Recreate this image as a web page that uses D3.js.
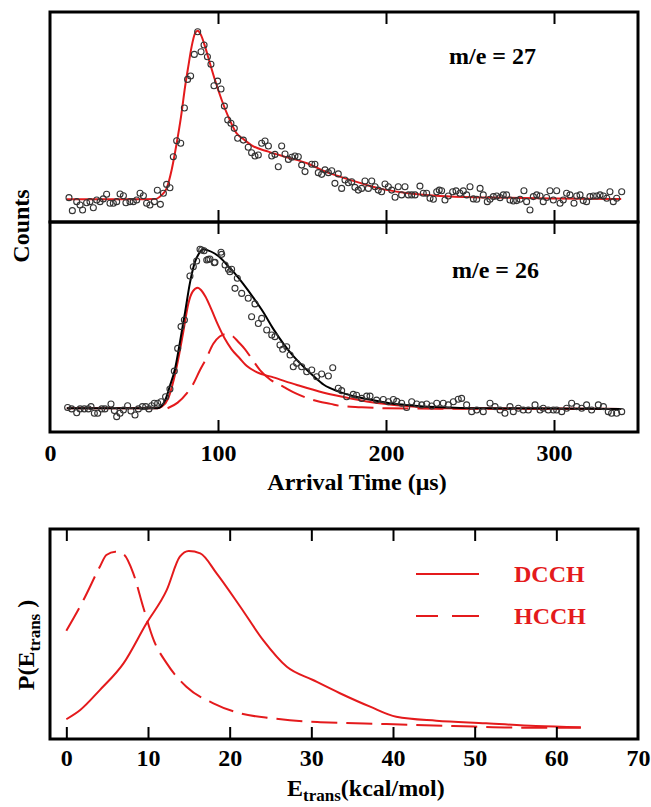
<!DOCTYPE html>
<html>
<head>
<meta charset="utf-8">
<script src="https://cdn.jsdelivr.net/npm/d3@7"></script>
<style>
  body { margin: 0; background: #fff; }
  svg text { font-family: "Liberation Serif", "Times New Roman", serif; font-weight: bold; }
</style>
</head>
<body>
<svg id="chart" width="651" height="807"></svg>
<script>
// ---- data (time in µs, counts in arbitrary units) ----
const timeTicks = [0, 100, 200, 300];
const energyTicks = [0, 10, 20, 30, 40, 50, 60, 70];

const counts27 = [
  [11.3,11.6],[13.3,5.4],[15.9,9.7],[17.9,8.1],[19.4,5.7],[21.8,9.2],[23.8,9.7],[25.8,6.8],[27.8,10.5],[29.8,9.7],
  [31.7,11.0],[33.7,13.2],[35.7,8.9],[37.7,8.9],[39.7,9.7],[41.7,13.3],[43.7,12.5],[45.2,9.2],[47.6,9.7],[49.6,9.7],
  [51.6,10.5],[53.6,13.7],[55.6,12.5],[57.5,8.9],[59.5,8.1],[62.1,9.7],[63.9,15.1],[65.7,8.4],[67.5,13.7],[69.4,17.9],
  [71.4,16.3],[73.4,31.1],[75.4,38.7],[77.8,37.5],[80.0,54.3],[81.9,67.9],[83.7,69.5],[85.9,79.8],[87.9,90.6],[89.9,81.1],
  [91.7,84.3],[93.7,78.7],[95.8,75.1],[97.6,64.9],[99.8,67.1],[101.8,63.3],[103.8,55.2],[105.8,48.6],[107.7,47.0],[109.7,44.6],
  [111.7,39.9],[115.1,39.0],[118.0,35.6],[120.0,33.0],[122.0,31.4],[124.0,31.9],[126.0,37.5],[128.0,38.6],[130.0,36.2],[132.0,31.4],
  [133.9,32.2],[135.9,26.3],[137.9,36.2],[139.9,32.4],[141.9,29.8],[143.9,30.8],[145.8,31.4],[147.8,31.1],[149.8,27.1],[151.8,24.0],
  [155.8,27.5],[157.7,27.5],[159.7,23.5],[161.7,22.7],[163.7,24.8],[165.7,23.5],[167.7,24.4],[169.6,18.4],[171.6,22.9],[173.6,16.0],
  [175.6,20.0],[177.6,18.7],[179.6,19.2],[181.5,16.5],[183.5,15.2],[185.5,16.0],[187.5,19.5],[189.5,16.0],[191.5,19.5],[193.5,16.8],
  [195.4,15.2],[197.4,14.4],[199.4,18.1],[201.4,16.8],[203.4,15.2],[205.4,11.8],[207.3,16.8],[209.3,12.9],[211.3,16.8],[213.3,12.9],
  [215.3,12.9],[217.3,12.9],[220.2,17.1],[222.2,13.7],[224.2,13.7],[226.2,11.3],[228.2,10.8],[230.2,14.4],[231.7,15.2],[233.1,14.9],
  [235.1,10.5],[237.1,12.4],[239.7,14.4],[241.7,14.8],[244.0,13.7],[246.0,14.8],[248.0,12.9],[250.0,16.8],[252.0,11.0],[254.0,10.8],
  [256.0,16.0],[257.9,12.9],[260.3,9.7],[261.9,10.8],[263.9,12.1],[265.9,12.4],[267.9,11.6],[269.8,12.9],[271.8,12.9],[273.8,10.5],
  [275.8,10.0],[277.8,10.2],[279.8,10.8],[282.1,14.9],[283.7,9.7],[285.7,5.7],[287.7,12.1],[289.7,12.9],[291.7,12.4],[293.6,9.7],
  [295.6,11.7],[297.6,14.9],[299.6,10.5],[301.6,14.9],[303.6,8.9],[305.5,10.5],[307.5,13.7],[309.5,12.9],[311.9,8.9],[313.5,12.4],
  [315.5,12.9],[317.4,10.2],[319.4,9.7],[321.4,12.1],[323.4,12.4],[325.4,12.4],[327.4,12.9],[329.4,12.4],[331.4,11.3],[333.3,14.4],
  [335.3,9.7],[337.3,11.3],[340.3,14.4]
];
const fit27 = [
  [10,10.8],[30,10.8],[50,10.8],[62.5,10.9],[66.5,12.9],[69.4,16],[72.4,24.8],[75.4,37.5],[78,50.2],[80.4,64.4],
  [82.3,74],[84.3,83.5],[86.3,89.8],[87.9,91.1],[89.9,89],[92.3,83.5],[95.2,75.6],[98.2,67.6],[102.2,58.1],[106.1,50.2],
  [111.1,42.2],[115.1,39.5],[120,36.5],[130,33.5],[140,31],[153,28],[164,24],[173,21.5],[185,18.5],[196,16],
  [212,13.8],[232,12.4],[260,11.7],[300,11.2],[340,11.0]
];

const counts26 = [
  [10.5,11.7],[12.9,11.0],[15.9,9.2],[17.9,11.0],[20.4,11.0],[22.8,11.0],[24.4,12.1],[26.4,8.9],[28.4,8.9],[30.8,11.0],
  [32.7,11.0],[36.3,13.3],[38.3,10.2],[39.7,7.3],[41.7,8.9],[43.7,10.5],[46.2,12.5],[48.2,10.0],[50.6,8.1],[52.6,11.0],
  [55.0,12.1],[57.0,12.1],[58.9,11.0],[60.5,12.5],[62.1,13.7],[64.1,13.7],[66.1,14.4],[68.8,16.8],[71.4,20.5],[74.0,29.0],
  [76.0,39.8],[78.0,50.2],[80.0,53.3],[83.3,74.3],[85.3,78.7],[87.3,81.4],[89.3,87.0],[90.3,86.7],[91.7,86.3],[93.3,81.9],
  [94.2,82.2],[95.2,82.4],[97.8,80.6],[98.2,80.8],[101.8,85.6],[102.2,84.6],[104.2,79.5],[106.2,77.5],[107.1,76.3],[108.1,77.5],
  [110.1,68.4],[111.5,73.2],[114.1,66.0],[118.0,63.7],[120.0,54.9],[122.0,61.0],[124.0,51.7],[126.0,54.1],[129.0,48.6],[132.0,46.2],
  [133.9,45.4],[136.9,41.4],[138.5,39.4],[140.9,40.6],[142.9,36.7],[144.8,31.1],[146.8,32.7],[149.8,31.1],[152.8,28.7],[155.8,29.5],
  [158.7,26.3],[161.7,27.6],[165.7,26.7],[168.3,30.6],[171.6,20.8],[173.6,19.7],[176.6,16.8],[180.5,17.9],[182.5,17.5],[185.5,16.0],
  [188.5,17.1],[190.5,17.1],[194.4,15.2],[198.4,15.5],[201.4,14.4],[204.4,15.5],[206.4,14.6],[209.3,13.7],[212.3,11.7],[215.3,14.4],
  [218.3,13.3],[221.3,12.9],[224.2,13.3],[227.2,12.4],[230.2,13.7],[234.1,13.7],[237.1,12.9],[240.1,14.4],[243.0,15.6],[245.0,16.0],
  [248.0,12.9],[251.0,9.7],[254.0,10.5],[257.9,9.7],[261.9,13.7],[264.9,12.1],[267.9,10.5],[270.8,8.9],[273.8,12.1],[275.8,9.7],
  [278.8,11.3],[281.7,10.5],[284.7,10.5],[288.7,12.9],[291.7,10.5],[293.6,11.3],[296.6,10.5],[299.6,10.5],[301.6,10.5],[304.6,9.7],
  [307.5,11.3],[310.5,13.7],[313.5,12.1],[316.5,11.3],[319.4,12.9],[322.4,10.5],[326.4,12.9],[329.4,12.1],[332.3,9.7],[334.3,8.9],
  [337.3,8.9],[340.3,9.7]
];
const fit26Total = [
  [10,11.3],[40,11.3],[64,11.3],[68.5,15],[71.4,22],[74.4,30],[77.4,43],[80.4,57],[83.3,71],[86.3,81],
  [88.7,85],[91.3,87],[94,86.5],[98,85],[102,82.5],[106,79],[110,75.5],[115,70.5],[121,64],[127,57],
  [133,49],[139,42],[145,36],[151,31],[157,26.5],[163,22.5],[172,19.2],[182,16.8],[192,15.2],[202,13.7],
  [212,12.9],[232,11.8],[260,11.3],[340,11.0]
];
const fit26Fast = [
  [10,11.3],[64,11.3],[66.5,12],[70.4,16],[73.4,24],[76.4,35],[79.4,48],[82.3,61],[85,67],[88,68.7],
  [90,67.5],[92.5,64.5],[96,58.5],[100,51],[104,44.5],[108,39.5],[113,35],[117,31.5],[123,28.5],[133,26],
  [147,22.4],[163,18.7],[179,16],[196,13.7],[212,12.4],[232,11.3],[340,11.0]
];
const fit26Slow = [
  [70,11.3],[76,14],[81.4,18.4],[85,22.5],[89.3,29.5],[93,35],[97.2,42],[101,45.5],[105.2,46.7],[109,45.5],
  [112,43],[116,39.5],[120,35],[125,29.5],[131,25],[139,21.5],[146,18.5],[153,16.2],[160,14.5],[167,13.4],
  [173,12.4],[185,11.8],[200,11.3],[230,11.1],[340,11.0]
];

// P(E_trans) in kcal/mol, arbitrary units
const pDCCH = [
  [0,9.4],[1.7,13.8],[4.1,23.3],[7.0,36],[9.8,55],[12.3,71],[13.9,86.8],[15.0,89.5],[16.4,88.4],[18.4,78.9],
  [21.3,63],[24.1,47.1],[27,34.4],[30.2,28.1],[33.5,21.8],[37.2,15.4],[40.4,10.6],[45.3,8.7],[51.4,7.5],[57.5,6.2],[63,5.6]
];
const pHCCH = [
  [0,51.6],[2.1,66.2],[4.1,82],[4.9,87.6],[6.0,89.2],[7.0,88],[8.2,78.9],[9.4,63],[10.7,47.1],[12.3,36],
  [14.7,24.9],[18.0,17],[21.3,12.2],[25.3,9.8],[29.8,8.2],[31.1,8.0],[39.2,7.1],[47.4,6.2],[55.6,5.4],[63,5.4]
];
const legendItems = [
  { name: "DCCH", dash: null },
  { name: "HCCH", dash: "22,14,27" }
];

// ---- layout ----
const red = "#e41a1c";
const dashPattern = "26,9";
const fontSize = 24;
const left = 50, right = 638;
const svg = d3.select("#chart");

const x = d3.scaleLinear().domain([0, 350]).range([left, right]);
const yTop = d3.scaleLinear().domain([0, 100]).range([222, 12]);
const yMid = d3.scaleLinear().domain([0, 100]).range([432, 222]);
const xE = d3.scaleLinear().domain([-2, 70]).range([left, right]);
const yE = d3.scaleLinear().domain([0, 100]).range([739, 529]);

function drawLine(data, xs, ys, color, dash) {
  const line = d3.line().x(d => xs(d[0])).y(d => ys(d[1])).curve(d3.curveMonotoneX);
  svg.append("path").datum(data)
    .attr("d", line)
    .attr("fill", "none")
    .attr("stroke", color)
    .attr("stroke-width", 2)
    .attr("stroke-dasharray", dash);
}

function drawPoints(data, ys) {
  svg.append("g").selectAll("circle").data(data).join("circle")
    .attr("cx", d => x(d[0]))
    .attr("cy", d => ys(d[1]))
    .attr("r", 3)
    .attr("fill", "none")
    .attr("stroke", "#333")
    .attr("stroke-width", 1.1);
}

// inward ticks on top and bottom edges of a frame
function innerTicks(xs, values, yTopEdge, yBottomEdge) {
  svg.append("g").attr("transform", `translate(0,${yTopEdge})`)
    .call(d3.axisTop(xs).tickValues(values).tickSize(-12).tickFormat(""))
    .call(g => g.select(".domain").remove())
    .call(g => g.selectAll("line").attr("stroke-width", 2));
  svg.append("g").attr("transform", `translate(0,${yBottomEdge})`)
    .call(d3.axisBottom(xs).tickValues(values).tickSize(-12).tickFormat(""))
    .call(g => g.select(".domain").remove())
    .call(g => g.selectAll("line").attr("stroke-width", 2));
}

function frame(x0, y0, x1, y1) {
  svg.append("rect")
    .attr("x", x0).attr("y", y0)
    .attr("width", x1 - x0).attr("height", y1 - y0)
    .attr("fill", "none").attr("stroke", "#000").attr("stroke-width", 3);
}

function styleLabels(g) {
  g.select(".domain").remove();
  g.selectAll("text").attr("font-size", fontSize).attr("fill", "#000")
    .attr("font-family", "Liberation Serif, serif").attr("font-weight", "bold");
}

// ---- TOF panels ----
drawLine(fit27, x, yTop, red, null);
drawPoints(counts27, yTop);

drawLine(fit26Slow, x, yMid, red, dashPattern);
drawLine(fit26Fast, x, yMid, red, null);
drawLine(fit26Total, x, yMid, "#000", null);
drawPoints(counts26, yMid);

innerTicks(x, [100, 200, 300], 12, 222);
innerTicks(x, [100, 200, 300], 222, 432);
frame(left, 12, right, 222);
frame(left, 222, right, 432);

svg.append("g").attr("transform", "translate(0,432)")
  .call(d3.axisBottom(x).tickValues(timeTicks).tickSize(0).tickPadding(12))
  .call(styleLabels);

svg.append("text").attr("x", 449).attr("y", 64).attr("font-size", fontSize).text("m/e = 27");
svg.append("text").attr("x", 452).attr("y", 278).attr("font-size", fontSize).text("m/e = 26");
svg.append("text").attr("x", 357).attr("y", 490).attr("font-size", fontSize)
  .attr("text-anchor", "middle").text("Arrival Time (μs)");
svg.append("text").attr("transform", "translate(29,226) rotate(-90)")
  .attr("font-size", fontSize).attr("text-anchor", "middle").text("Counts");

// ---- P(E) panel ----
drawLine(pHCCH, xE, yE, red, dashPattern);
drawLine(pDCCH, xE, yE, red, null);
innerTicks(xE, [0, 10, 20, 30, 40, 50, 60], 529, 739);
frame(left, 529, right, 739);

svg.append("g").attr("transform", "translate(0,739)")
  .call(d3.axisBottom(xE).tickValues(energyTicks).tickSize(0).tickPadding(10))
  .call(styleLabels);

const legend = svg.append("g");
legendItems.forEach((item, i) => {
  const yy = 574 + i * 42;
  legend.append("line")
    .attr("x1", 416).attr("x2", 479).attr("y1", yy).attr("y2", yy)
    .attr("stroke", red).attr("stroke-width", 2)
    .attr("stroke-dasharray", item.dash);
  legend.append("text").attr("x", 514).attr("y", yy + 8)
    .attr("font-size", fontSize).attr("fill", red).text(item.name);
});

const xl = svg.append("text").attr("x", 287).attr("y", 796).attr("font-size", fontSize);
xl.append("tspan").text("E");
xl.append("tspan").attr("font-size", 17).attr("dy", 5).text("trans");
xl.append("tspan").attr("dy", -5).text("(kcal/mol)");

const yl = svg.append("text").attr("transform", "translate(34,645) rotate(-90)")
  .attr("font-size", fontSize).attr("text-anchor", "middle");
yl.append("tspan").text("P(E");
yl.append("tspan").attr("font-size", 17).attr("dy", 6).text("trans");
yl.append("tspan").attr("dy", -6).text(" )");
</script>
</body>
</html>
